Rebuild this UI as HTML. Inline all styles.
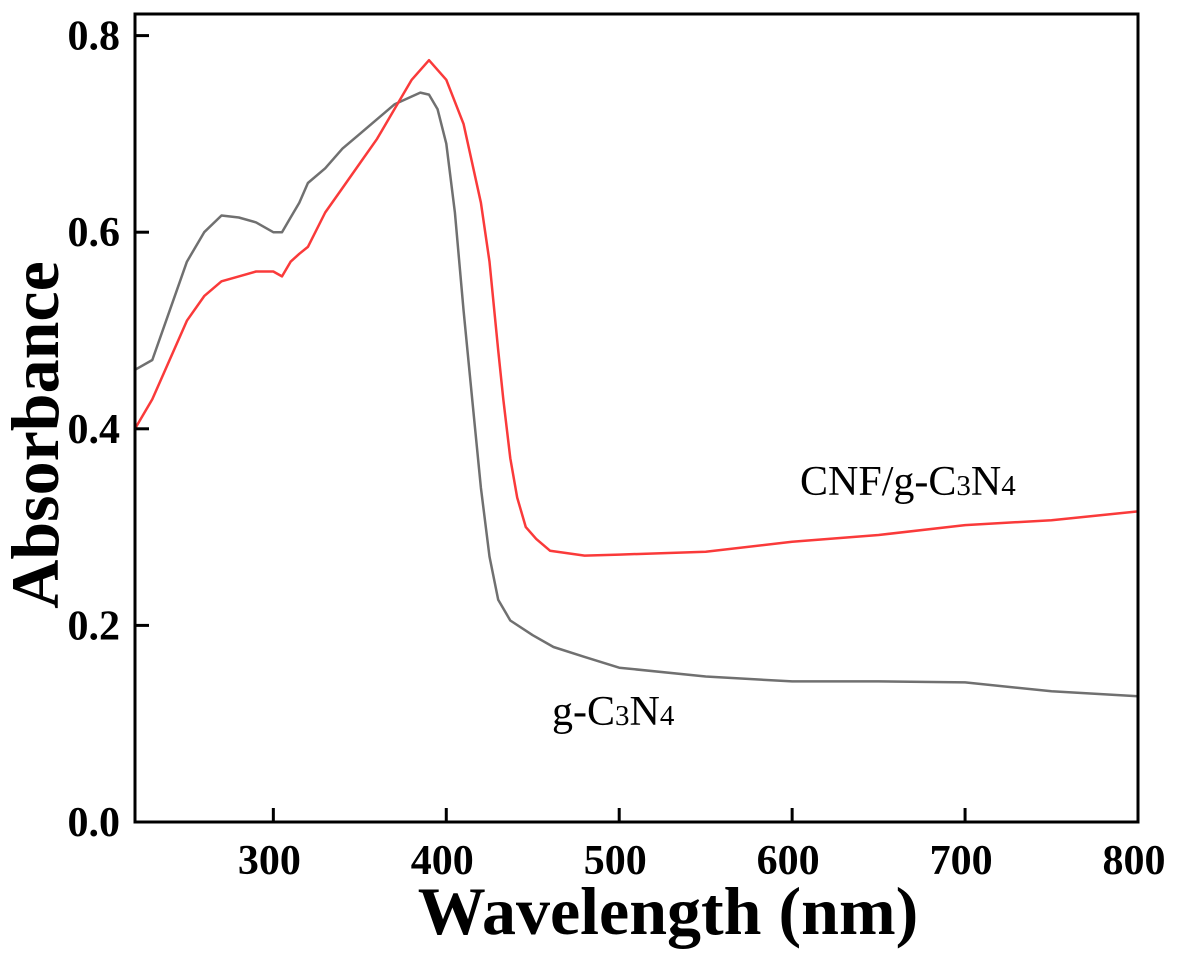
<!DOCTYPE html>
<html><head><meta charset="utf-8"><style>
body{margin:0;background:#fff;}
svg{display:block;font-family:"Liberation Serif",serif;}
</style></head><body>
<svg id="chart" width="1181" height="957">
<g id="marks"></g>
<rect x="135" y="14" width="1003" height="808" fill="none" stroke="#000" stroke-width="3"/>
<g id="ticks"></g>
<text x="668" y="934" font-size="68" font-weight="bold" text-anchor="middle">Wavelength (nm)</text>
<text transform="translate(58,435) rotate(-90)" font-size="68" font-weight="bold" text-anchor="middle">Absorbance</text>
<text x="800" y="495" font-size="42">CNF/g-C<tspan font-size="29">3</tspan>N<tspan font-size="29">4</tspan></text>
<text x="552" y="725" font-size="42">g-C<tspan font-size="29">3</tspan>N<tspan font-size="29">4</tspan></text>
</svg>
<script>
const wlG=[220,230,240,250,260,270,280,290,300,305,310,315,320,330,340,350,360,370,380,385,390,395,400,405,410,415,420,425,430,437,450,462,480,500,550,600,650,700,750,800];
const gc3n4=[0.46,0.47,0.52,0.57,0.60,0.617,0.615,0.61,0.60,0.60,0.615,0.63,0.65,0.665,0.685,0.70,0.715,0.73,0.738,0.742,0.74,0.725,0.69,0.62,0.52,0.43,0.34,0.27,0.226,0.205,0.19,0.178,0.168,0.157,0.148,0.143,0.143,0.142,0.133,0.128];
const wlR=[220,230,240,250,260,270,280,290,300,305,310,315,320,330,340,350,360,370,380,390,400,410,420,425,430,433,437,441,446,452,460,480,500,550,600,650,700,750,800];
const cnf=[0.40,0.43,0.47,0.51,0.535,0.55,0.555,0.56,0.56,0.555,0.57,0.578,0.585,0.62,0.645,0.67,0.695,0.725,0.755,0.775,0.755,0.71,0.63,0.57,0.48,0.43,0.37,0.33,0.30,0.288,0.276,0.271,0.272,0.275,0.285,0.292,0.302,0.307,0.316];
const xTicks=[300,400,500,600,700,800];
const yTicks=[0.0,0.2,0.4,0.6,0.8];
const X=v=>135+(v-220)*(1003/580);
const Y=v=>822-v*983;
const NS='http://www.w3.org/2000/svg';
const marks=document.getElementById('marks'),ticks=document.getElementById('ticks');
function line(xs,vals,color,name){
 const p=document.createElementNS(NS,'path');
 p.setAttribute('d',xs.map((w,i)=>(i?'L':'M')+X(w).toFixed(1)+','+Y(vals[i]).toFixed(1)).join(''));
 p.setAttribute('fill','none');p.setAttribute('stroke',color);p.setAttribute('stroke-width','2.5');p.setAttribute('stroke-linejoin','round');
 
 
 marks.appendChild(p);
}
line(wlG,gc3n4,'#707070','series-g-c3n4');
line(wlR,cnf,'#fa3a3a','series-cnf-g-c3n4');
xTicks.forEach(t=>{
 const l=document.createElementNS(NS,'line');
 l.setAttribute('x1',X(t));l.setAttribute('x2',X(t));l.setAttribute('y1',822);l.setAttribute('y2',808);l.setAttribute('stroke','#000');l.setAttribute('stroke-width','3');
 
 
 ticks.appendChild(l);
 const s=document.createElementNS(NS,'text');
 s.setAttribute('x',X(t)-4);s.setAttribute('y',874);s.setAttribute('font-size','42');s.setAttribute('font-weight','bold');s.setAttribute('text-anchor','middle');
 s.textContent=t;
 
 
 ticks.appendChild(s);
});
yTicks.forEach(t=>{
 const l=document.createElementNS(NS,'line');
 l.setAttribute('x1',135);l.setAttribute('x2',149);l.setAttribute('y1',Y(t));l.setAttribute('y2',Y(t));l.setAttribute('stroke','#000');l.setAttribute('stroke-width','3');
 
 
 ticks.appendChild(l);
 const s=document.createElementNS(NS,'text');
 s.setAttribute('x',120);s.setAttribute('y',Y(t)+14);s.setAttribute('font-size','42');s.setAttribute('font-weight','bold');s.setAttribute('text-anchor','end');
 s.textContent=t.toFixed(1);
 
 
 ticks.appendChild(s);
});
</script>
</body></html>
